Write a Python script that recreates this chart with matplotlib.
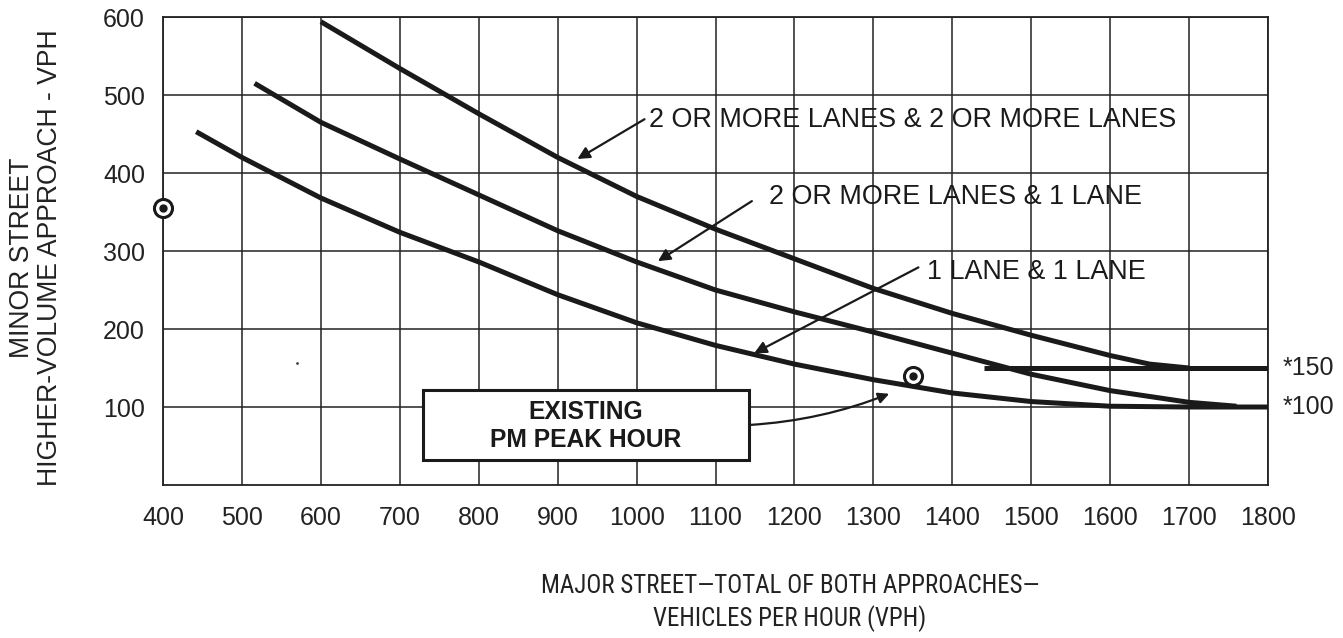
import matplotlib
matplotlib.use("Agg")
import matplotlib.pyplot as plt
from matplotlib.patches import Rectangle

plt.rcParams['font.family'] = ['Liberation Sans', 'DejaVu Sans']

# --- curves (major street vph, minor street vph) ---
x_dos_dos = [600, 700, 800, 900, 1000, 1100, 1200, 1300, 1400, 1500, 1600, 1650, 1700]
y_dos_dos = [594, 534, 476, 420, 370, 328, 290, 252, 220, 192, 166, 155, 150]

x_dos_uno = [516, 600, 700, 800, 900, 1000, 1100, 1200, 1300, 1400, 1500, 1600, 1700, 1760]
y_dos_uno = [515, 465, 418, 372, 326, 286, 250, 222, 196, 169, 142, 121, 106, 101]

x_uno_uno = [442, 500, 600, 700, 800, 900, 1000, 1100, 1200, 1300, 1400, 1500, 1600, 1700, 1800]
y_uno_uno = [453, 420, 368, 324, 286, 244, 208, 179, 155, 135, 118, 107, 101, 100, 100]

# linea minima de 150 vph
x_min150 = [1440, 1800]
y_min150 = [150, 150]

# puntos medidos
x_puntos = [400, 1350]
y_puntos = [355, 140]

x_ticks = list(range(400, 1900, 100))
y_ticks = list(range(100, 700, 100))

fig = plt.figure(figsize=(13.43, 6.38), dpi=100)
ax = fig.add_axes([0.1214, 0.2398, 0.8228, 0.7335])

ax.set_xlim(400, 1800)
ax.set_ylim(0, 600)
ax.set_xticks(x_ticks)
ax.set_yticks(y_ticks)
ax.tick_params(axis='both', length=0, labelsize=18, colors='#222222')
ax.tick_params(axis='x', pad=15)
ax.tick_params(axis='y', pad=13)
ax.grid(True, color='#222222', lw=1.1)
ax.set_axisbelow(True)
for s in ax.spines.values():
    s.set_linewidth(1.3)
    s.set_color('#222222')

lw_curva = 3.6
ax.plot(x_dos_dos, y_dos_dos, color='#1a1a1a', lw=lw_curva, solid_capstyle='butt', zorder=3)
ax.plot(x_dos_uno, y_dos_uno, color='#1a1a1a', lw=lw_curva, solid_capstyle='butt', zorder=3)
ax.plot(x_uno_uno, y_uno_uno, color='#1a1a1a', lw=lw_curva, solid_capstyle='butt', zorder=3)
ax.plot(x_min150, y_min150, color='#1a1a1a', lw=lw_curva, solid_capstyle='butt', zorder=3)

# puntos con circulo
ax.plot(x_puntos, y_puntos, 'o', ms=13, mfc='white', mec='#1a1a1a', mew=2.2, zorder=5, clip_on=False)
ax.plot(x_puntos, y_puntos, 'o', ms=5, color='#1a1a1a', zorder=6, clip_on=False)
ax.plot([570], [156], '.', ms=2, color='#444444', zorder=4)

# etiquetas de curvas con flechas
flecha = dict(arrowstyle='-|>', color='#1a1a1a', lw=1.6, mutation_scale=18, shrinkA=0, shrinkB=0)
ax.annotate('', xy=(925, 418), xytext=(1010, 469), arrowprops=flecha, zorder=4)
ax.text(1016, 468, '2 OR MORE LANES & 2 OR MORE LANES', fontsize=19.4, va='center', ha='left',
        color='#1a1a1a', zorder=4)
ax.annotate('', xy=(1027, 287), xytext=(1146, 364), arrowprops=flecha, zorder=4)
ax.text(1168, 369, '2 OR MORE LANES & 1 LANE', fontsize=19.4, va='center', ha='left',
        color='#1a1a1a', zorder=4)
ax.annotate('', xy=(1149, 169), xytext=(1357, 279), arrowprops=flecha, zorder=4)
ax.text(1368, 273, '1 LANE & 1 LANE', fontsize=19.4, va='center', ha='left',
        color='#1a1a1a', zorder=4)

# valores minimos a la derecha
ax.text(1819, 150, '*150', fontsize=18, va='center', ha='left', color='#222222', clip_on=False)
ax.text(1819, 100, '*100', fontsize=18, va='center', ha='left', color='#222222', clip_on=False)

# caja de hora pico
caja = Rectangle((729, 32), 414, 90, facecolor='white', edgecolor='#1a1a1a', lw=2.2, zorder=4)
ax.add_patch(caja)
ax.text(936, 76, 'EXISTING\nPM PEAK HOUR', fontsize=17.7, fontweight='bold', ha='center',
        va='center', linespacing=1.2, color='#1a1a1a', zorder=5)
ax.annotate('', xy=(1320, 117), xytext=(1143, 77),
            arrowprops=dict(arrowstyle='-|>', color='#1a1a1a', lw=1.6, mutation_scale=16,
                            shrinkA=0, shrinkB=0, connectionstyle='arc3,rad=0.08'), zorder=5)

# titulos de ejes
fig.text(36 / 1343, 1 - 258 / 638, 'MINOR STREET\nHIGHER-VOLUME APPROACH - VPH', rotation=90,
         ha='center', va='center', fontsize=19.2, linespacing=1.1, color='#222222')
fig.text(790 / 1343, 1 - 603 / 638, 'MAJOR STREET\u2014TOTAL OF BOTH APPROACHES\u2014\nVEHICLES PER HOUR (VPH)',
         ha='center', va='center', fontsize=18, linespacing=1.3, color='#222222',
         family=['Roboto Condensed', 'DejaVu Sans Condensed', 'Liberation Sans Narrow', 'Liberation Sans'],
         stretch='condensed')

fig.savefig('out.png', dpi=100)
